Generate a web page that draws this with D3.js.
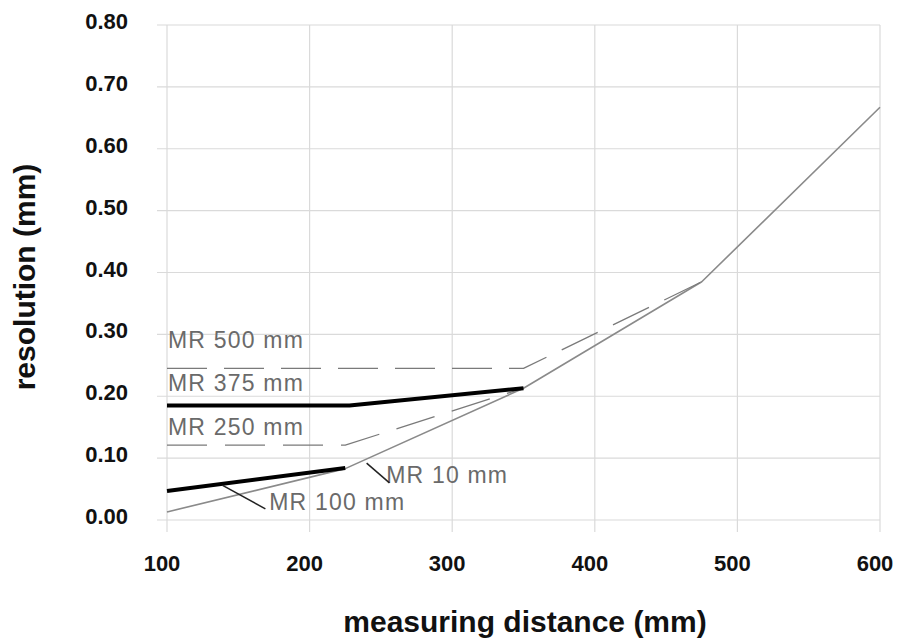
<!DOCTYPE html>
<html>
<head>
<meta charset="utf-8">
<script src="https://cdn.jsdelivr.net/npm/d3@7"></script>
<style>
  html, body { margin: 0; padding: 0; background: #fff; }
  svg { display: block; }
  text { font-family: "Liberation Sans", Arial, Helvetica, sans-serif; }
</style>
</head>
<body>
<svg id="chart" width="898" height="643"></svg>
<script>
// ---- data ----
const xTicks = [100, 200, 300, 400, 500, 600];
const yTicks = [0, 0.1, 0.2, 0.3, 0.4, 0.5, 0.6, 0.7, 0.8];

const distMR10  = [100, 225, 350, 475, 600];
const resMR10   = [0.013, 0.083, 0.213, 0.385, 0.667];
const distMR100 = [100, 225];
const resMR100  = [0.047, 0.084];
const distMR250 = [100, 225, 350];
const resMR250  = [0.121, 0.121, 0.213];
const distMR375 = [100, 228, 350];
const resMR375  = [0.185, 0.185, 0.213];
const distMR500 = [100, 225, 350, 475];
const resMR500  = [0.245, 0.245, 0.245, 0.385];

const seriesNames = ["MR 500 mm", "MR 375 mm", "MR 250 mm", "MR 10 mm", "MR 100 mm"];

// ---- layout ----
const svg = d3.select("#chart");
const x = d3.scaleLinear().domain([100, 600]).range([167, 880]);
const y = d3.scaleLinear().domain([0, 0.8]).range([520, 25]);

// grid
const g = svg.append("g");
g.selectAll(".hg").data(yTicks).enter().append("line")
  .attr("x1", x(100) - 10).attr("x2", x(600))
  .attr("y1", d => y(d)).attr("y2", d => y(d))
  .attr("stroke", "#dadada").attr("stroke-width", 1.2);
g.selectAll(".vg").data(xTicks).enter().append("line")
  .attr("x1", d => x(d)).attr("x2", d => x(d))
  .attr("y1", y(0.8)).attr("y2", y(0) + 12)
  .attr("stroke", "#dadada").attr("stroke-width", 1.2);

// tick labels
g.selectAll(".yl").data(yTicks).enter().append("text")
  .attr("x", 128).attr("y", d => y(d) + 4)
  .attr("text-anchor", "end")
  .attr("font-size", 22).attr("font-weight", "bold").attr("fill", "#111")
  .text(d => d3.format(".2f")(d));
g.selectAll(".xl").data(xTicks).enter().append("text")
  .attr("x", d => x(d) - 5).attr("y", 571)
  .attr("text-anchor", "middle")
  .attr("font-size", 22).attr("font-weight", "bold").attr("fill", "#111")
  .text(d => d);

// axis titles
svg.append("text").attr("x", 525).attr("y", 632)
  .attr("text-anchor", "middle").attr("font-size", 30).attr("font-weight", "bold").attr("fill", "#111")
  .text("measuring distance (mm)");
svg.append("text").attr("transform", "translate(35,277) rotate(-90)")
  .attr("text-anchor", "middle").attr("font-size", 30).attr("font-weight", "bold").attr("fill", "#111")
  .text("resolution (mm)");

// lines
const line = d3.line().x(d => x(d[0])).y(d => y(d[1]));
const zip = (a, b) => a.map((v, i) => [v, b[i]]);

const series = [
  { xs: distMR10,  ys: resMR10,  stroke: "#8a8a8a", w: 1.6, dash: null },
  { xs: distMR250, ys: resMR250, stroke: "#7a7a7a", w: 1.3, dash: "40,18" },
  { xs: distMR500, ys: resMR500, stroke: "#7a7a7a", w: 1.3, dash: "40,17" },
  { xs: distMR100, ys: resMR100, stroke: "#000",    w: 4,   dash: null },
  { xs: distMR375, ys: resMR375, stroke: "#000",    w: 4,   dash: null }
];
svg.selectAll(".series").data(series).enter().append("path")
  .attr("d", s => line(zip(s.xs, s.ys)))
  .attr("fill", "none")
  .attr("stroke", s => s.stroke)
  .attr("stroke-width", s => s.w)
  .attr("stroke-dasharray", s => s.dash)
  .attr("stroke-linejoin", "round");

// series labels
const labelPos = [
  { name: seriesNames[0], dx: 100, dy: 0.278 },
  { name: seriesNames[1], dx: 100, dy: 0.208 },
  { name: seriesNames[2], dx: 100, dy: 0.138 },
  { name: seriesNames[3], dx: 253, dy: 0.060 },
  { name: seriesNames[4], dx: 171, dy: 0.016 }
];
svg.selectAll(".sl").data(labelPos).enter().append("text")
  .attr("x", d => x(d.dx) + 1).attr("y", d => y(d.dy))
  .attr("font-size", 23).attr("fill", "#6a6a6a").attr("letter-spacing", 1.2)
  .text(d => d.name);

// leader lines
const leaders = [
  [[240, 0.092], [256, 0.060]],
  [[139, 0.056], [169, 0.018]]
];
svg.selectAll(".ld").data(leaders).enter().append("path")
  .attr("d", d => line(d))
  .attr("stroke", "#222").attr("stroke-width", 1.5).attr("fill", "none");
</script>
</body>
</html>
